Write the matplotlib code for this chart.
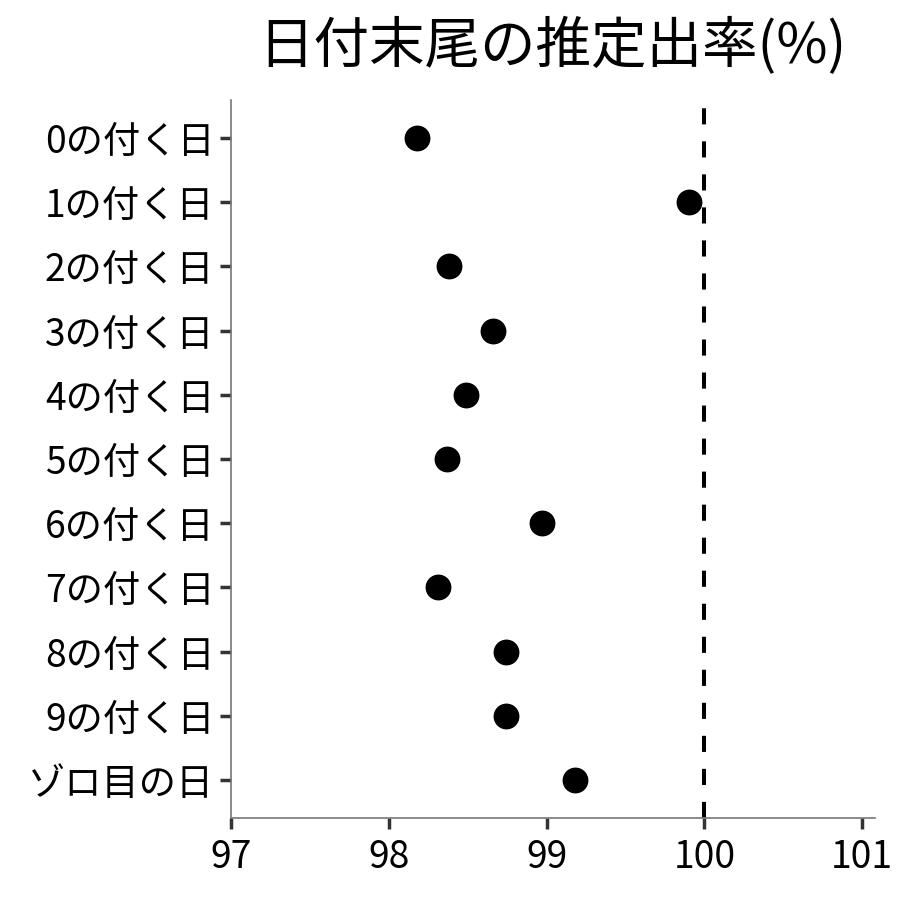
import matplotlib
matplotlib.use("Agg")
import matplotlib.pyplot as plt

plt.rcParams["font.family"] = ["Noto Sans CJK JP", "DejaVu Sans"]

labels = ["0の付く日", "1の付く日", "2の付く日", "3の付く日", "4の付く日",
          "5の付く日", "6の付く日", "7の付く日", "8の付く日", "9の付く日",
          "ゾロ目の日"]
rates = [98.18, 99.90, 98.38, 98.66, 98.49, 98.37, 98.97, 98.31, 98.74, 98.74, 99.18]
xticks = [97, 98, 99, 100, 101]

fig = plt.figure(figsize=(9, 9), dpi=100)
ax = fig.add_axes([0.257, 0.091, 0.715, 0.798])

ypos = list(range(len(labels)))
ax.scatter(rates, ypos, s=310, color="black", zorder=3)
ax.axvline(100, color="black", linestyle=(0, (4, 4.2)), linewidth=2.9)

ax.set_xlim(97, 101.08)
ax.set_ylim(len(labels) - 0.41, -0.59)
ax.set_yticks(ypos)
ax.set_yticklabels(labels)
ax.set_xticks(xticks)
ax.set_xticklabels([str(t) for t in xticks])

for s in ["top", "right"]:
    ax.spines[s].set_visible(False)
for s in ["left", "bottom"]:
    ax.spines[s].set_color("#777777")
    ax.spines[s].set_linewidth(1.2)
ax.tick_params(axis="both", length=8, width=2.5, color="#333333",
               labelsize=26.8, pad=4, labelcolor="black")
ax.tick_params(axis="x", pad=6)

fig.text(0.614, 0.948, "日付末尾の推定出率(%)", ha="center", va="center", fontsize=40)

fig.savefig("out.png", dpi=100)
